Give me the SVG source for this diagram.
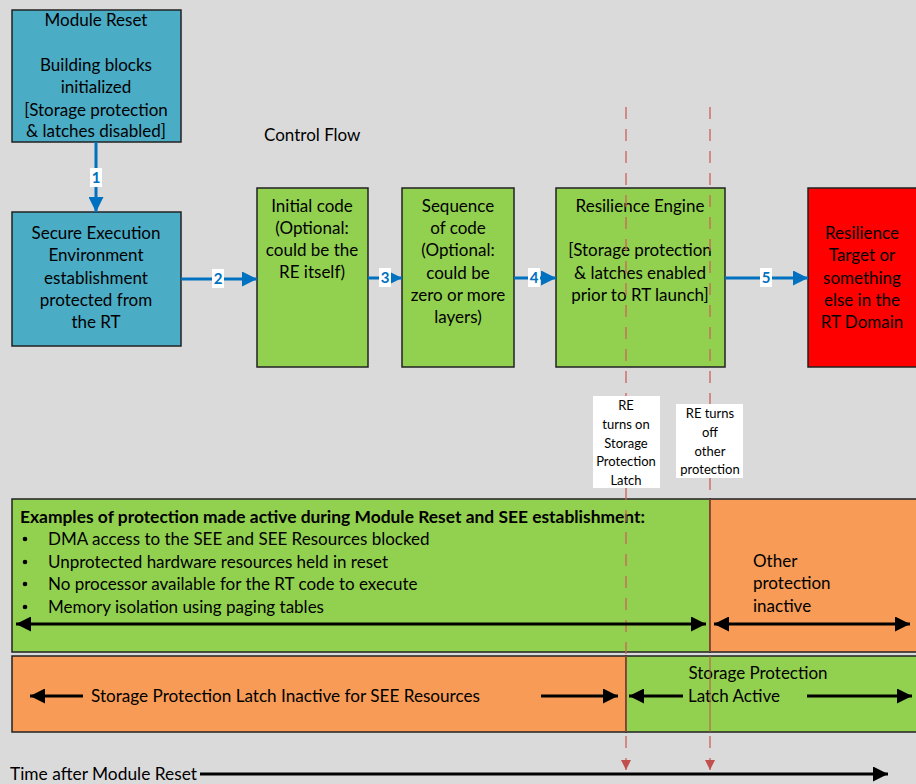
<svg xmlns="http://www.w3.org/2000/svg" width="916" height="784" viewBox="0 0 916 784">
<defs>
<style>
.t{font-family:Lato,"Liberation Sans",sans-serif;font-size:17px;fill:#000;text-anchor:middle}
.tl{font-family:Lato,"Liberation Sans",sans-serif;font-size:17px;fill:#000}
.s{font-family:Lato,"Liberation Sans",sans-serif;font-size:13px;fill:#000;text-anchor:middle}
.n{font-family:Lato,"Liberation Sans",sans-serif;font-size:15px;font-weight:bold;fill:#0070c0;text-anchor:middle}
.box{stroke:#222;stroke-width:1.5}
.blue{fill:#4bacc6}
.green{fill:#92d050}
.orange{fill:#f79b56}
.red{fill:#ff0000}
.flow{stroke:#0070c0;stroke-width:3;fill:none;marker-end:url(#ba)}
.blk{stroke:#000;stroke-width:3;fill:none}
.dash{stroke:#d0605a;stroke-width:1.3;stroke-dasharray:12 10;fill:none}
</style>
<marker id="ba" viewBox="0 0 10 10" refX="10" refY="5" markerWidth="5" markerHeight="5" markerUnits="strokeWidth" orient="auto"><path d="M0,0L10,5L0,10z" fill="#0070c0"/></marker>
<marker id="ka" viewBox="0 0 10 10" refX="10" refY="5" markerWidth="5" markerHeight="5" markerUnits="strokeWidth" orient="auto-start-reverse"><path d="M0,0L10,5L0,10z" fill="#000"/></marker>
<marker id="ra" viewBox="0 0 10 10" refX="10" refY="5" markerWidth="8" markerHeight="8" markerUnits="strokeWidth" orient="auto"><path d="M0,0L10,5L0,10z" fill="#c0504d"/></marker>
</defs>
<rect width="916" height="784" fill="#dadada"/>

<g id="module-reset">
<rect class="box blue" x="12" y="10" width="169" height="132"/>
<text class="t" x="96" y="26">Module Reset</text>
<text class="t" x="96" y="71">Building blocks</text>
<text class="t" x="96" y="93">initialized</text>
<text class="t" x="96" y="116">[Storage protection</text>
<text class="t" x="96" y="137">&amp; latches disabled]</text>
</g>

<g id="see">
<rect class="box blue" x="12" y="212" width="169" height="134"/>
<text class="t" x="96" y="239">Secure Execution</text>
<text class="t" x="96" y="261">Environment</text>
<text class="t" x="96" y="284">establishment</text>
<text class="t" x="96" y="306">protected from</text>
<text class="t" x="96" y="328">the RT</text>
</g>

<text class="tl" x="264" y="141">Control Flow</text>

<g id="initial-code">
<rect class="box green" x="257" y="188" width="111" height="179"/>
<text class="t" x="312" y="212">Initial code</text>
<text class="t" x="312" y="234">(Optional:</text>
<text class="t" x="312" y="256">could be the</text>
<text class="t" x="312" y="278">RE itself)</text>
</g>

<g id="sequence">
<rect class="box green" x="402" y="188" width="112" height="179"/>
<text class="t" x="458" y="212">Sequence</text>
<text class="t" x="458" y="234">of code</text>
<text class="t" x="458" y="256">(Optional:</text>
<text class="t" x="458" y="279">could be</text>
<text class="t" x="458" y="301">zero or more</text>
<text class="t" x="458" y="323">layers)</text>
</g>

<g id="resilience-engine">
<rect class="box green" x="556" y="188" width="169" height="179"/>
<text class="t" x="640" y="212">Resilience Engine</text>
<text class="t" x="640" y="256">[Storage protection</text>
<text class="t" x="640" y="279">&amp; latches enabled</text>
<text class="t" x="640" y="301">prior to RT launch]</text>
</g>

<g id="resilience-target">
<rect class="box red" x="808" y="188" width="112" height="179"/>
<text class="t" x="862" y="239">Resilience</text>
<text class="t" x="862" y="261">Target or</text>
<text class="t" x="862" y="284">something</text>
<text class="t" x="862" y="306">else in the</text>
<text class="t" x="862" y="328">RT Domain</text>
</g>

<g id="protection-active">
<rect class="box green" x="12" y="499" width="698" height="153"/>
<text class="tl" x="20" y="523" font-weight="bold" textLength="625" lengthAdjust="spacingAndGlyphs">Examples of protection made active during Module Reset and SEE establishment:</text>
<g class="tl">
<circle cx="25" cy="539" r="2.3"/><text x="48" y="545">DMA access to the SEE and SEE Resources blocked</text>
<circle cx="25" cy="562" r="2.3"/><text x="48" y="568">Unprotected hardware resources held in reset</text>
<circle cx="25" cy="584" r="2.3"/><text x="48" y="590">No processor available for the RT code to execute</text>
<circle cx="25" cy="607" r="2.3"/><text x="48" y="613">Memory isolation using paging tables</text>
</g>
</g>

<g id="other-inactive">
<rect class="box orange" x="710" y="499" width="210" height="153"/>
<text class="tl" x="753" y="567">Other</text>
<text class="tl" x="753" y="589">protection</text>
<text class="tl" x="753" y="612">inactive</text>
</g>

<g id="latch-inactive">
<rect class="box orange" x="12" y="656" width="614" height="76"/>
<text class="tl" x="91" y="702" textLength="389" lengthAdjust="spacingAndGlyphs">Storage Protection Latch Inactive for SEE Resources</text>
</g>

<g id="latch-active">
<rect class="box green" x="626" y="656" width="294" height="76"/>
<text class="tl" x="758" y="679" text-anchor="middle">Storage Protection</text>
<text class="tl" x="688" y="702">Latch Active</text>
</g>

<g id="note-on">
<rect x="593" y="396" width="67" height="92" fill="#fff"/>
<text class="s" x="626" y="410">RE</text>
<text class="s" x="626" y="429">turns on</text>
<text class="s" x="626" y="448">Storage</text>
<text class="s" x="626" y="466">Protection</text>
<text class="s" x="626" y="485">Latch</text>
</g>

<g id="note-off">
<rect x="676" y="404" width="67" height="74" fill="#fff"/>
<text class="s" x="710" y="418">RE turns</text>
<text class="s" x="710" y="437">off</text>
<text class="s" x="710" y="456">other</text>
<text class="s" x="710" y="474">protection</text>
</g>

<g id="connectors">
<path class="flow" d="M96,142V212"/>
<path class="flow" d="M181,279H257"/>
<path class="flow" d="M368,278H402"/>
<path class="flow" d="M514,278H556"/>
<path class="flow" d="M725,278H808"/>
<g>
<rect x="90" y="168" width="12" height="19" fill="#fff"/><text class="n" x="96" y="183">1</text>
<rect x="212" y="269" width="12" height="19" fill="#fff"/><text class="n" x="218" y="284">2</text>
<rect x="379" y="268" width="12" height="19" fill="#fff"/><text class="n" x="385" y="283">3</text>
<rect x="528" y="268" width="12" height="19" fill="#fff"/><text class="n" x="534" y="283">4</text>
<rect x="760" y="268" width="12" height="19" fill="#fff"/><text class="n" x="766" y="283">5</text>
</g>
<path class="dash" d="M626,107V396M626,488V656"/>
<path class="dash" d="M710,107V404M710,478V499"/>
<path d="M710,499V652M626,656V732" stroke="#b05040" stroke-width="1.3"/>
<path d="M710,656V732" stroke="#c0504d" stroke-width="1"/>
<path class="dash" d="M626,736V770" stroke-dasharray="16 8" marker-end="url(#ra)"/>
<path class="dash" d="M710,736V770" stroke-dasharray="16 8" marker-end="url(#ra)"/>
<path class="blk" d="M16,624H706" marker-start="url(#ka)" marker-end="url(#ka)"/>
<path class="blk" d="M714,624H910" marker-start="url(#ka)" marker-end="url(#ka)"/>
<path class="blk" d="M83,696H30" marker-end="url(#ka)"/>
<path class="blk" d="M541,696H618" marker-end="url(#ka)"/>
<path class="blk" d="M683,696H629" marker-end="url(#ka)"/>
<path class="blk" d="M807,696H912" marker-end="url(#ka)"/>
<path class="blk" d="M200,774H888" marker-end="url(#ka)"/>
</g>
<text class="tl" x="10" y="780" textLength="187" lengthAdjust="spacingAndGlyphs">Time after Module Reset</text>
</svg>
